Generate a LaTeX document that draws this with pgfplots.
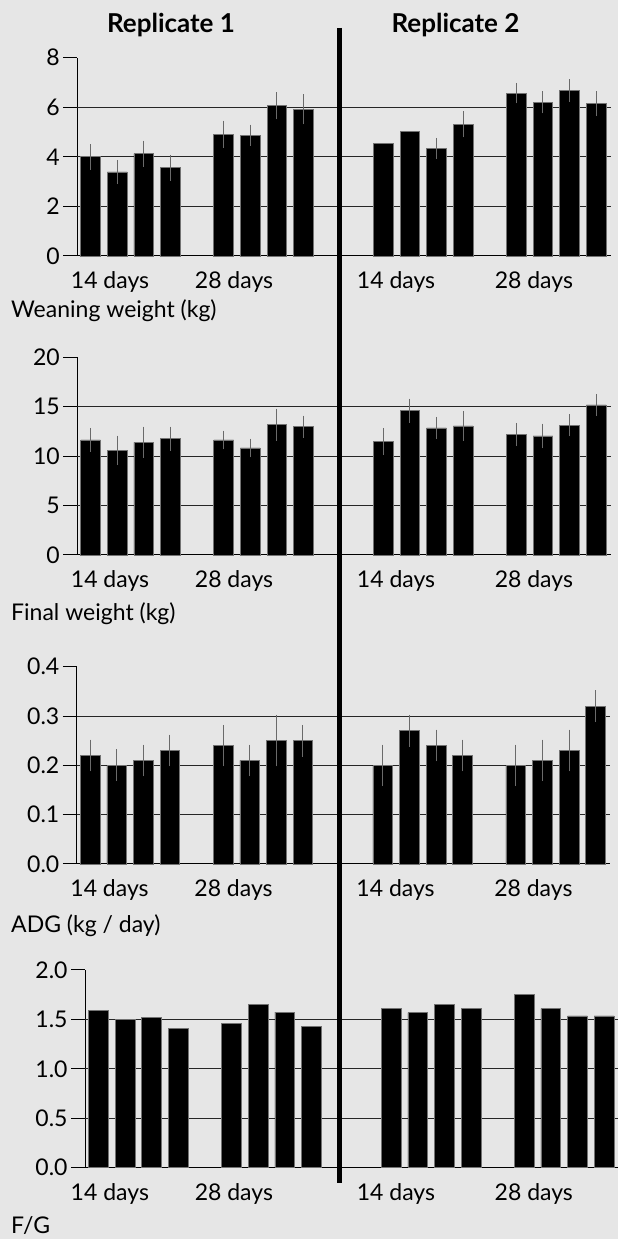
\documentclass[border=0pt]{standalone}
\usepackage{pgfplots}
\pgfplotsset{compat=1.18}
\usepackage{fontspec}
\setmainfont{Lato}
\definecolor{bg}{HTML}{E6E6E6}
\definecolor{errc}{HTML}{6A6A6A}
\newcommand{\lblfont}{\fontsize{23bp}{27bp}\selectfont}
\pgfplotsset{
  panel/.style={
    scale only axis, anchor=south west,
    xmin=-0.5, ymin=0,
    axis x line*=bottom, axis y line*=left,
    axis line style={black, line width=1bp},
    xtick={0.73,5.39,11.48,16.66},
    xticklabels={14 days,28 days,14 days,28 days},
    xtick style={draw=none},
    ytick style={black, line width=1bp},
    tick align=outside,
    major tick length=14bp,
    tick label style={font=\lblfont},
    /pgf/number format/assume math mode=true,
    xticklabel style={anchor=base, yshift=-19bp},
    yticklabel style={anchor=east},
    major grid style={black!85, line width=0.9bp},
    extra y tick labels={},
    extra y tick style={grid=major},
    clip=false,
  },
  barplot/.style={ybar, bar shift=0pt, bar width=19.7bp, fill=black, draw=black!55, line width=0.7bp},
  errplot/.style={barplot, error bars/.cd, y dir=both, y explicit,
    error bar style={errc, line width=1bp},
    error mark options={errc, line width=1bp, mark size=6bp}},
}
\begin{document}
\begin{tikzpicture}[x=1bp,y=1bp]
\useasboundingbox (0,0) rectangle (618,1239);
\fill[bg] (0,0) rectangle (618,1239);

% Panel 1: Weaning weight
\begin{axis}[panel, at={(77.3bp,983bp)}, width=533.5bp, height=198.3bp,
  xmax=19.55, ymax=8, ytick={0,2,4,6,8}, extra y ticks={2,4,6}]
\addplot[errplot] coordinates {
 (0,4.00) +- (0,0.27)  (1,3.39) +- (0,0.25)  (2,4.13) +- (0,0.28)  (3,3.56) +- (0,0.28)
 (5,4.91) +- (0,0.31)  (6,4.87) +- (0,0.19)  (7,6.06) +- (0,0.31)  (8,5.92) +- (0,0.37)
 (13,4.34) +- (0,0.18) (14,5.31) +- (0,0.28)
 (16,6.57) +- (0,0.17) (17,6.20) +- (0,0.20) (18,6.67) +- (0,0.21) (19,6.14) +- (0,0.26)};
\addplot[barplot] coordinates {(11,4.53) (12,5.04)};
\end{axis}

% Panel 2: Final weight
\begin{axis}[panel, at={(77.3bp,684bp)}, width=533.5bp, height=197.7bp,
  xmax=19.55, ymax=20, ytick={0,5,10,15,20}, extra y ticks={5,10,15}]
\addplot[errplot] coordinates {
 (0,11.64) +- (0,0.60)  (1,10.59) +- (0,0.88)  (2,11.40) +- (0,0.98)  (3,11.77) +- (0,0.61)
 (5,11.64) +- (0,0.34)  (6,10.83) +- (0,0.34)  (7,13.19) +- (0,1.01)  (8,12.98) +- (0,0.51)
 (11,11.50) +- (0,0.74) (12,14.60) +- (0,0.61) (13,12.85) +- (0,0.51) (14,13.05) +- (0,0.91)
 (16,12.18) +- (0,0.57) (17,12.04) +- (0,0.64) (18,13.12) +- (0,0.51) (19,15.18) +- (0,0.50)};
\end{axis}

% Panel 3: ADG
\begin{axis}[panel, at={(76.8bp,375bp)}, width=533.5bp, height=197.3bp,
  xmax=19.55, ymax=0.4, ytick={0,0.1,0.2,0.3,0.4}, extra y ticks={0.1,0.2,0.3},
  yticklabel style={/pgf/number format/.cd, fixed, fixed zerofill, precision=1}]
\addplot[errplot] coordinates {
 (0,0.22) +- (0,0.02)  (1,0.20) +- (0,0.02)  (2,0.21) +- (0,0.02)  (3,0.23) +- (0,0.02)
 (5,0.24) +- (0,0.03)  (6,0.21) +- (0,0.02)  (7,0.25) +- (0,0.04)  (8,0.25) +- (0,0.02)
 (11,0.20) +- (0,0.03) (12,0.27) +- (0,0.02) (13,0.24) +- (0,0.02) (14,0.22) +- (0,0.02)
 (16,0.20) +- (0,0.03) (17,0.21) +- (0,0.03) (18,0.23) +- (0,0.03) (19,0.32) +- (0,0.02)};
\end{axis}

% Panel 4: F/G
\begin{axis}[panel, at={(85.1bp,71.3bp)}, width=532.8bp, height=197.7bp,
  xmax=19.52, ymax=2, ytick={0,0.5,1,1.5,2}, extra y ticks={0.5,1,1.5},
  xtick={0.43,5.09,11.18,16.36},
  yticklabel style={/pgf/number format/.cd, fixed, fixed zerofill, precision=1}]
\addplot[barplot] coordinates {
 (0,1.595) (1,1.504) (2,1.518) (3,1.410)
 (5,1.460) (6,1.649) (7,1.575) (8,1.427)
 (11,1.615) (12,1.568) (13,1.656) (14,1.609)
 (16,1.757) (17,1.609) (18,1.535) (19,1.535)};
\end{axis}

% labels
\node[anchor=base west, inner sep=0pt, font=\lblfont] at (11,921) {Weaning weight (kg)};
\node[anchor=base west, inner sep=0pt, font=\lblfont] at (11,618) {Final weight (kg)};
\node[anchor=base west, inner sep=0pt, font=\lblfont] at (11,306) {ADG (kg / day)};
\node[anchor=base west, inner sep=0pt, font=\lblfont] at (11,5) {F/G};
\node[anchor=base, inner sep=0pt, font=\fontsize{26bp}{30bp}\selectfont\bfseries] at (171,1206) {Replicate 1};
\node[anchor=base, inner sep=0pt, font=\fontsize{26bp}{30bp}\selectfont\bfseries] at (455.5,1206) {Replicate 2};
\draw[black, line width=5bp] (339,1211) -- (339,56);
\end{tikzpicture}
\end{document}
